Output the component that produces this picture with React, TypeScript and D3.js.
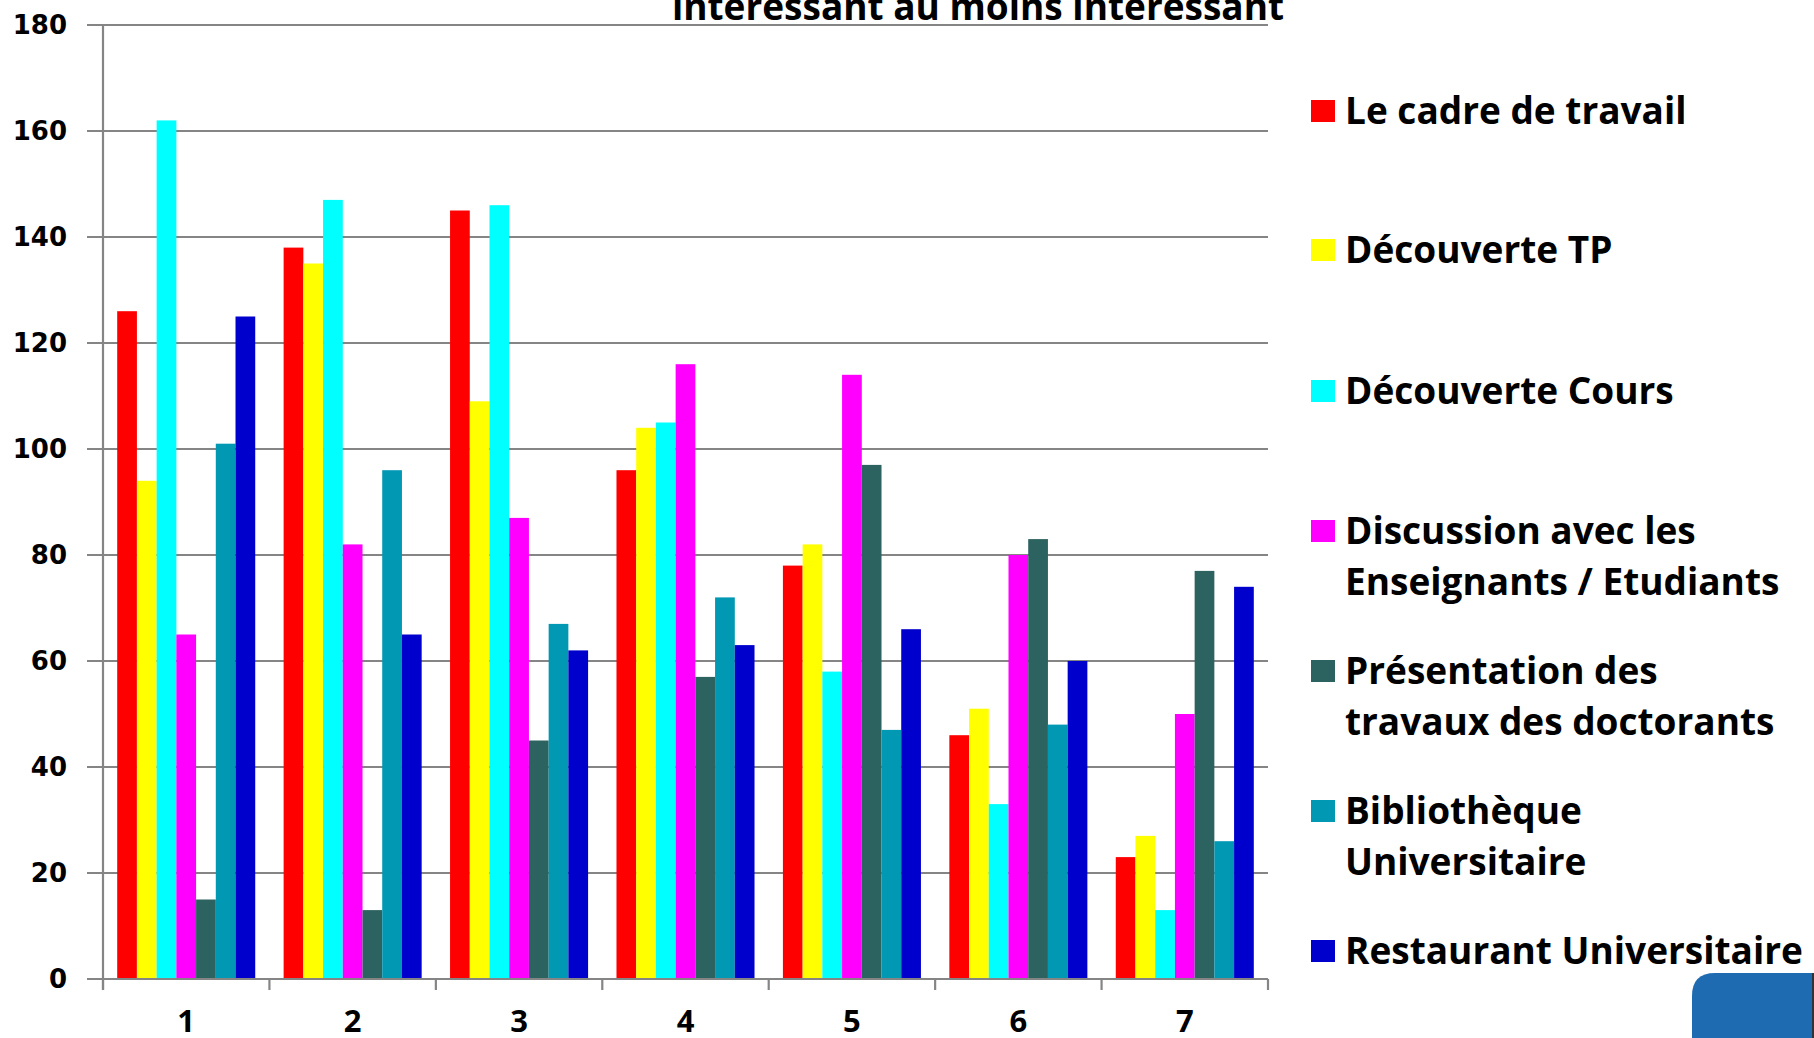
import React from 'react';
import * as d3 from 'd3';

const categories = ['1', '2', '3', '4', '5', '6', '7'];

const seriesNames = [
  'Le cadre de travail',
  'Découverte TP',
  'Découverte Cours',
  'Discussion avec les\nEnseignants / Etudiants',
  'Présentation des\ntravaux des doctorants',
  'Bibliothèque\nUniversitaire',
  'Restaurant Universitaire',
];

const seriesColors = ['#ff0000', '#ffff00', '#00ffff', '#ff00ff', '#2c625f', '#0098b3', '#0000cc'];

// one array per series, one value per category 1..7
const cadreTravail = [126, 138, 145, 96, 78, 46, 23];
const decouverteTP = [94, 135, 109, 104, 82, 51, 27];
const decouverteCours = [162, 147, 146, 105, 58, 33, 13];
const discussion = [65, 82, 87, 116, 114, 80, 50];
const presentation = [15, 13, 45, 57, 97, 83, 77];
const bibliotheque = [101, 96, 67, 72, 47, 48, 26];
const restaurant = [125, 65, 62, 63, 66, 60, 74];

const seriesValues = [cadreTravail, decouverteTP, decouverteCours, discussion, presentation, bibliotheque, restaurant];

const yTicks = [0, 20, 40, 60, 80, 100, 120, 140, 160, 180];

const titleLine = 'intéressant au moins intéressant';

export default function App() {
  var width = 1814;
  var height = 1038;

  var left = 103, right = 1268, top = 25, bottom = 979;

  var y = d3.scaleLinear().domain([0, 180]).range([bottom, top]);
  var x0 = d3.scaleBand().domain(categories).range([left, right]).padding(0);
  var x1 = d3.scaleBand()
    .domain(seriesNames)
    .range([0, x0.bandwidth()])
    .paddingInner(0)
    .paddingOuter(0.72);

  var boundaries = categories.map((c) => x0(c)).concat([right]);

  var legendX = 1311;
  var legendTop = [111, 250, 391, 531, 671, 811, 951];

  return (
    <svg width={width} height={height} style={{ position: 'absolute', left: 0, top: 0, background: '#fff' }}>
      {/* grid */}
      {yTicks.map((t) => (
        <line key={'g' + t} x1={87} x2={right} y1={y(t)} y2={y(t)} stroke="#858585" strokeWidth={2.2} />
      ))}

      {/* bars */}
      {categories.map((c, ci) => (
        <g key={'c' + c} transform={'translate(' + x0(c) + ',0)'}>
          {seriesNames.map((s, si) => (
            <rect
              key={s}
              x={x1(s)}
              y={y(seriesValues[si][ci])}
              width={x1.bandwidth()}
              height={y(0) - y(seriesValues[si][ci])}
              fill={seriesColors[si]}
            />
          ))}
        </g>
      ))}

      {/* axes */}
      <line x1={left} x2={left} y1={top} y2={990} stroke="#858585" strokeWidth={2.2} />
      <line x1={left} x2={right} y1={bottom} y2={bottom} stroke="#858585" strokeWidth={2.2} />
      {boundaries.map((b, i) => (
        <line key={'b' + i} x1={b} x2={b} y1={bottom} y2={990} stroke="#858585" strokeWidth={2.2} />
      ))}

      {yTicks.map((t) => (
        <text
          key={'t' + t}
          x={67}
          y={y(t)}
          dy="0.36em"
          textAnchor="end"
          fontFamily="DejaVu Sans"
          fontWeight="bold"
          fontSize={26}
          fill="#000"
        >
          {t}
        </text>
      ))}

      {categories.map((c) => (
        <text
          key={'l' + c}
          x={x0(c) + x0.bandwidth() / 2}
          y={1032}
          textAnchor="middle"
          fontFamily="Open Sans"
          fontWeight="bold"
          fontSize={31}
          fill="#000"
        >
          {c}
        </text>
      ))}

      {/* title (only its last line shows) */}
      <text x={978} y={20} textAnchor="middle" fontFamily="Open Sans" fontWeight="bold" fontSize={37} fill="#000">
        {titleLine}
      </text>

      {/* legend */}
      {seriesNames.map((s, i) => (
        <g key={'lg' + i}>
          <rect x={legendX} y={legendTop[i] - 11} width={24} height={22} fill={seriesColors[i]} />
          {s.split('\n').map((line, li) => (
            <text
              key={li}
              x={1345}
              y={legendTop[i] + li * 51}
              dy="0.36em"
              fontFamily="Open Sans"
              fontWeight="bold"
              fontSize={37}
              fill="#000"
            >
              {line}
            </text>
          ))}
        </g>
      ))}

      {/* blue corner shape */}
      <path d="M1692,1038 L1692,996 Q1692,973 1715,973 L1812,973 L1812,1038 Z" fill="#1f6bb2" />
      <line x1={1813} x2={1813} y1={973} y2={1038} stroke="#333" strokeWidth={2} />
    </svg>
  );
}
